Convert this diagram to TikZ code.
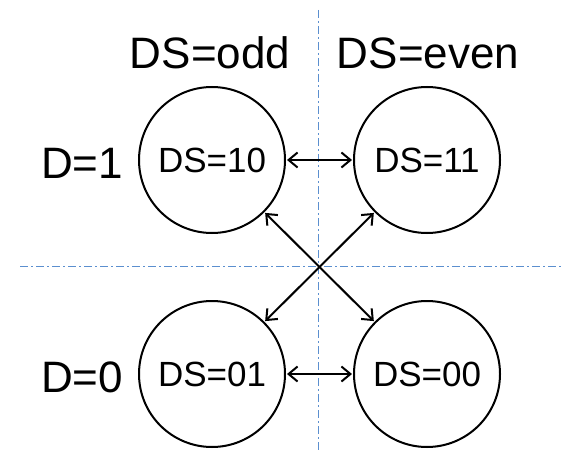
\documentclass[tikz,border=0pt]{standalone}
\usepackage{fontspec}
\setmainfont{Liberation Sans}
\usetikzlibrary{arrows.meta}
\begin{document}
\begin{tikzpicture}[x=1pt,y=-1pt,
  state/.style={draw=black,line width=2pt,circle,minimum size=146pt,inner sep=0pt,font=\fontsize{35}{40}\selectfont},
  axis/.style={draw={rgb,255:red,91;green,143;blue,207},line width=1pt,dash pattern=on 8pt off 3pt on 2pt off 3pt},
  link/.style={draw=black,line width=2pt,{Straight Barb[length=9pt,width=15pt]}-{Straight Barb[length=9pt,width=15pt]},shorten <=1pt,shorten >=1pt},
  big/.style={font=\fontsize{44}{50}\selectfont,inner sep=0pt}]
\useasboundingbox (0,0) rectangle (562,452);
\coordinate (vt) at (318,10);
\coordinate (vb) at (318,452);
\coordinate (hl) at (20,266);
\coordinate (hr) at (562,266);
\draw[axis] (vt) -- (vb);
\draw[axis] (hl) -- (hr);
\node[state] (s10) at (212,160) {DS=10};
\node[state] (s11) at (427,160) {DS=11};
\node[state] (s01) at (212,374) {DS=01};
\node[state] (s00) at (427,374) {DS=00};
\node[big,anchor=base] (odd) at (210,69) {DS=odd};
\node[big,anchor=base] (even) at (428,69) {DS=even};
\node[big,anchor=base] (d1) at (82,178) {D=1};
\node[big,anchor=base] (d0) at (82,392) {D=0};
\draw[link] (s10) -- (s11);
\draw[link] (s01) -- (s00);
\draw[link] (s10) -- (s00);
\draw[link] (s11) -- (s01);
\end{tikzpicture}
\end{document}
